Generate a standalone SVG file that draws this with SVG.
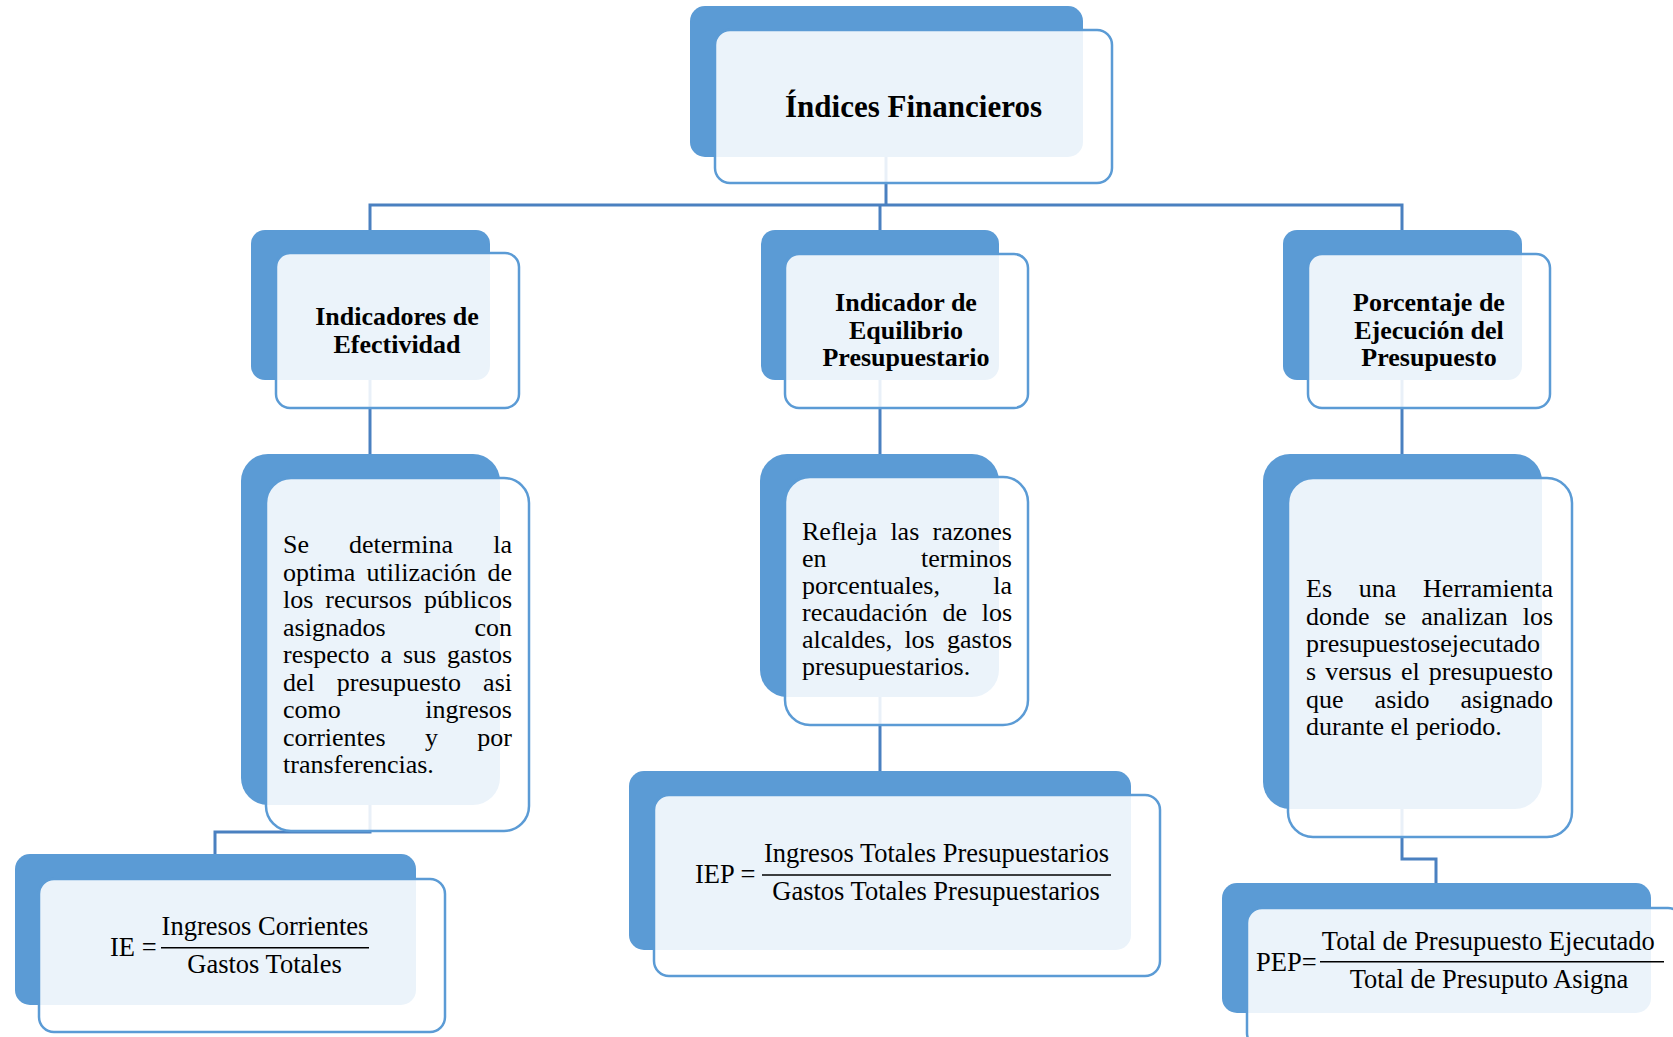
<svg xmlns="http://www.w3.org/2000/svg" width="1673" height="1037" viewBox="0 0 1673 1037">
<style>
.bk{fill:#5B9BD5}
.fr{fill:#ffffff;fill-opacity:0.88;stroke:#5B9BD5;stroke-width:2.5}
.cn{fill:none;stroke:#4a80c0;stroke-width:3}
.t{font-family:"Liberation Serif","Times New Roman",serif;fill:#000}
.h1{font-size:31px;font-weight:bold;text-anchor:middle}
.h2{font-size:26px;font-weight:bold;text-anchor:middle}
.p{font-size:26px}
.f{font-size:26.5px}
.m{text-anchor:middle}
.e{text-anchor:end}
.fl{stroke:#000;stroke-width:1.5}
</style>
<rect width="1673" height="1037" fill="#ffffff"/>
<g id="connectors">
<path class="cn" d="M886,157 V205"/>
<path class="cn" d="M370,230 V205 H1402 V230"/>
<path class="cn" d="M880,205 V230"/>
<path class="cn" d="M370,380 V454"/>
<path class="cn" d="M880,380 V454"/>
<path class="cn" d="M1402,380 V454"/>
<path class="cn" d="M370,805 V832 H215 V854"/>
<path class="cn" d="M880,697 V771"/>
<path class="cn" d="M1402,809 V859 H1436 V883"/>
</g>
<g id="n-root">
<rect class="bk" x="690" y="6" width="393" height="151" rx="15"/>
<rect class="fr" x="715" y="30" width="397" height="153" rx="15"/>
<text class="t h1" x="913.5" y="117">Índices Financieros</text>
</g>
<g id="n-efectividad">
<rect class="bk" x="251" y="230" width="239" height="150" rx="14"/>
<rect class="fr" x="276" y="253" width="243" height="155" rx="14"/>
<text class="t h2" x="397" y="325">Indicadores de</text>
<text class="t h2" x="397" y="353">Efectividad</text>
</g>
<g id="n-equilibrio">
<rect class="bk" x="761" y="230" width="238" height="150" rx="14"/>
<rect class="fr" x="785" y="254" width="243" height="154" rx="14"/>
<text class="t h2" x="906" y="311">Indicador de</text>
<text class="t h2" x="906" y="339">Equilibrio</text>
<text class="t h2" x="906" y="366">Presupuestario</text>
</g>
<g id="n-porcentaje">
<rect class="bk" x="1283" y="230" width="239" height="150" rx="14"/>
<rect class="fr" x="1308" y="254" width="242" height="154" rx="14"/>
<text class="t h2" x="1429" y="311">Porcentaje de</text>
<text class="t h2" x="1429" y="339">Ejecución del</text>
<text class="t h2" x="1429" y="366">Presupuesto</text>
</g>
<g id="n-desc-efectividad">
<rect class="bk" x="241" y="454" width="259" height="351" rx="27"/>
<rect class="fr" x="266" y="478" width="263" height="353" rx="25"/>
<text class="t p" y="553"><tspan x="283">Se</tspan><tspan x="349">determina</tspan><tspan x="512" class="e">la</tspan></text>
<text class="t p" y="580.5"><tspan x="283">optima</tspan><tspan x="366.5">utilización</tspan><tspan x="512" class="e">de</tspan></text>
<text class="t p" y="608"><tspan x="283">los</tspan><tspan x="325.3">recursos</tspan><tspan x="512" class="e">públicos</tspan></text>
<text class="t p" y="635.5"><tspan x="283">asignados</tspan><tspan x="512" class="e">con</tspan></text>
<text class="t p" y="663"><tspan x="283">respecto</tspan><tspan x="380.5">a</tspan><tspan x="402.9">sus</tspan><tspan x="512" class="e">gastos</tspan></text>
<text class="t p" y="690.5"><tspan x="283">del</tspan><tspan x="336.8">presupuesto</tspan><tspan x="512" class="e">asi</tspan></text>
<text class="t p" y="718"><tspan x="283">como</tspan><tspan x="512" class="e">ingresos</tspan></text>
<text class="t p" y="745.5"><tspan x="283">corrientes</tspan><tspan x="424.9">y</tspan><tspan x="512" class="e">por</tspan></text>
<text class="t p" x="283" y="773">transferencias.</text>
</g>
<g id="n-desc-equilibrio">
<rect class="bk" x="760" y="454" width="239" height="243" rx="27"/>
<rect class="fr" x="785" y="477" width="243" height="248" rx="25"/>
<text class="t p" y="540"><tspan x="802">Refleja</tspan><tspan x="890.4">las</tspan><tspan x="1012" class="e">razones</tspan></text>
<text class="t p" y="567"><tspan x="802">en</tspan><tspan x="1012" class="e">terminos</tspan></text>
<text class="t p" y="594"><tspan x="802">porcentuales,</tspan><tspan x="1012" class="e">la</tspan></text>
<text class="t p" y="621"><tspan x="802">recaudación</tspan><tspan x="942.4">de</tspan><tspan x="1012" class="e">los</tspan></text>
<text class="t p" y="648"><tspan x="802">alcaldes,</tspan><tspan x="904.4">los</tspan><tspan x="1012" class="e">gastos</tspan></text>
<text class="t p" x="802" y="675">presupuestarios.</text>
</g>
<g id="n-desc-porcentaje">
<rect class="bk" x="1263" y="454" width="279" height="355" rx="27"/>
<rect class="fr" x="1288" y="478" width="284" height="359" rx="25"/>
<text class="t p" y="597"><tspan x="1306">Es</tspan><tspan x="1358.8">una</tspan><tspan x="1553" class="e">Herramienta</tspan></text>
<text class="t p" y="624.5"><tspan x="1306">donde</tspan><tspan x="1384.5">se</tspan><tspan x="1421.2">analizan</tspan><tspan x="1553" class="e">los</tspan></text>
<text class="t p" x="1306" y="652">presupuestosejecutado</text>
<text class="t p" y="680"><tspan x="1306">s</tspan><tspan x="1325.3">versus</tspan><tspan x="1400.9">el</tspan><tspan x="1553" class="e">presupuesto</tspan></text>
<text class="t p" y="707.5"><tspan x="1306">que</tspan><tspan x="1374.6">asido</tspan><tspan x="1553" class="e">asignado</tspan></text>
<text class="t p" x="1306" y="735">durante el periodo.</text>
</g>
<g id="n-formula-ie">
<rect class="bk" x="15" y="854" width="401" height="151" rx="15"/>
<rect class="fr" x="39" y="879" width="406" height="153" rx="15"/>
<text class="t f" x="110" y="956">IE =</text>
<text class="t f m" x="265" y="935">Ingresos Corrientes</text>
<line class="fl" x1="161" y1="947.7" x2="369" y2="947.7"/>
<text class="t f m" x="264.5" y="973">Gastos Totales</text>
</g>
<g id="n-formula-iep">
<rect class="bk" x="629" y="771" width="502" height="179" rx="15"/>
<rect class="fr" x="654" y="795" width="506" height="181" rx="15"/>
<text class="t f" x="695" y="883">IEP =</text>
<text class="t f m" x="936.5" y="862">Ingresos Totales Presupuestarios</text>
<line class="fl" x1="762" y1="875" x2="1111" y2="875"/>
<text class="t f m" x="936" y="900">Gastos Totales Presupuestarios</text>
</g>
<g id="n-formula-pep">
<rect class="bk" x="1222" y="883" width="429" height="130" rx="15"/>
<rect class="fr" x="1247" y="908" width="436" height="140" rx="15"/>
<text class="t f" x="1256" y="970.7">PEP=</text>
<text class="t f m" x="1488.3" y="950">Total de Presupuesto Ejecutado</text>
<line class="fl" x1="1320" y1="961.7" x2="1664" y2="961.7"/>
<text class="t f m" x="1489" y="988.3">Total de Presuputo Asigna</text>
</g>
</svg>
